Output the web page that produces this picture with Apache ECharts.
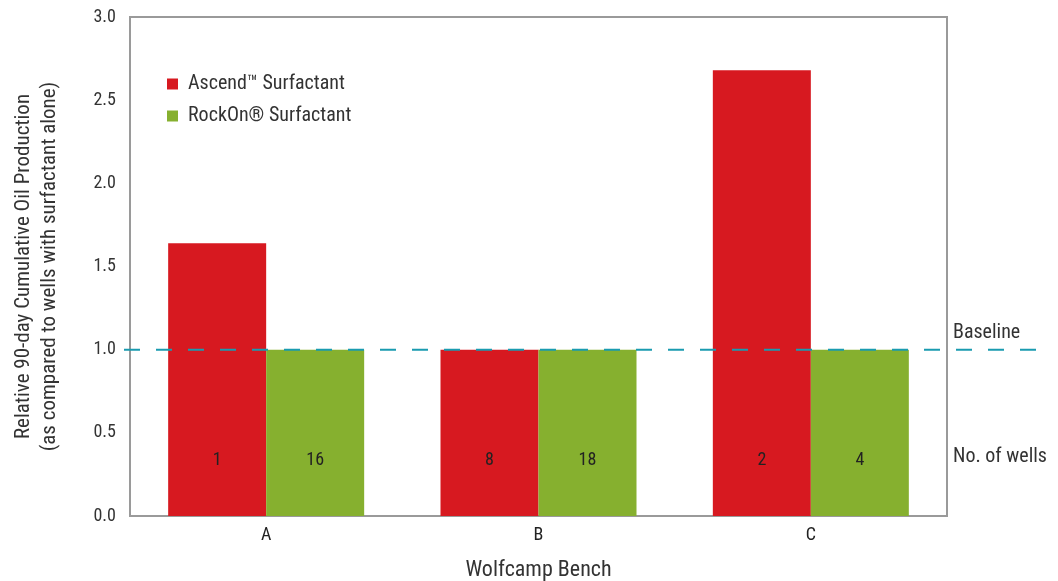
<!DOCTYPE html>
<html><head><meta charset="utf-8">
<script src="https://cdn.jsdelivr.net/npm/echarts@6/dist/echarts.min.js"></script>
<style>html,body{margin:0;padding:0;background:#fff}#c{width:1058px;height:581px}</style>
</head><body><div id="c"></div>
<script>
const categories = ['A', 'B', 'C'];
const ascendValues = [1.64, 1.0, 2.68];
const rockOnValues = [1.0, 1.0, 1.0];
const ascendWells = [1, 8, 2];
const rockOnWells = [16, 18, 4];
const baselineValue = 1.0;
const wellsLabelValue = 0.34;
const yTicks = [0, 0.5, 1.0, 1.5, 2.0, 2.5, 3.0];

const FONT = "'Liberation Sans Narrow','Roboto Condensed','Liberation Sans',sans-serif";
const chart = echarts.init(document.getElementById('c'), null, {renderer: 'canvas'});

function wellsLabel(arr) {
  return {
    show: true, position: 'insideBottom', distance: 47,
    formatter: p => String(arr[p.dataIndex]),
    color: '#222', fontFamily: FONT, fontSize: 18
  };
}

chart.setOption({
  animation: false,
  textStyle: {fontFamily: FONT},
  grid: {left: 130, top: 17, right: 111, bottom: 65, show: true, borderColor: '#9a9a9a', borderWidth: 2,
         containLabel: false, outerBoundsMode: 'none'},
  legend: {
    orient: 'vertical', left: 167, top: 74, padding: 0, itemWidth: 11, itemHeight: 11, itemGap: 12, icon: 'rect',
    textStyle: {fontFamily: FONT, fontSize: 20, color: '#333', padding: [0, 0, 0, 5]},
    data: ['Ascend\u2122 Surfactant', 'RockOn\u00ae Surfactant']
  },
  xAxis: {
    type: 'category', data: categories,
    name: 'Wolfcamp Bench', nameLocation: 'middle', nameGap: 43,
    nameTextStyle: {fontFamily: FONT, fontSize: 22, color: '#333'},
    axisLine: {show: true, lineStyle: {color: '#9a9a9a', width: 2}},
    axisTick: {show: false},
    axisLabel: {fontFamily: FONT, fontSize: 18, color: '#222', margin: 10}
  },
  yAxis: {
    type: 'value', min: yTicks[0], max: yTicks[yTicks.length - 1], interval: 0.5,
    name: 'Relative 90-day Cumulative Oil Production\n(as compared to wells with surfactant alone)',
    nameLocation: 'middle', nameGap: 67, nameRotate: 90,
    nameTextStyle: {fontFamily: FONT, fontSize: 21, color: '#333', lineHeight: 26},
    axisLine: {show: true, lineStyle: {color: '#9a9a9a', width: 2}},
    axisTick: {show: false},
    splitLine: {show: false},
    axisLabel: {fontFamily: FONT, fontSize: 18, color: '#333', margin: 14, formatter: v => v.toFixed(1)}
  },
  series: [
    {
      name: 'Ascend\u2122 Surfactant', type: 'bar', data: ascendValues,
      barWidth: 98, barGap: '0%',
      itemStyle: {color: '#d71920'},
      label: wellsLabel(ascendWells)
    },
    {
      name: 'RockOn\u00ae Surfactant', type: 'bar', data: rockOnValues,
      barWidth: 98, barGap: '0%',
      itemStyle: {color: '#86b02f'},
      label: wellsLabel(rockOnWells)
    }
  ]
});

const yBase = chart.convertToPixel({yAxisIndex: 0}, baselineValue);
const yWells = chart.convertToPixel({yAxisIndex: 0}, wellsLabelValue);
chart.setOption({
  graphic: [
    {type: 'line', z: 100, shape: {x1: 124, y1: yBase, x2: 1042, y2: yBase},
     style: {stroke: '#1a9bb0', lineWidth: 2, lineDash: [16, 16]}},
    {type: 'text', left: 953, top: yBase - 27,
     style: {text: 'Baseline', fontFamily: FONT, fontSize: 20, fill: '#333'}},
    {type: 'text', left: 953, top: yWells - 12,
     style: {text: 'No. of wells', fontFamily: FONT, fontSize: 20, fill: '#333'}}
  ]
});
</script></body></html>
